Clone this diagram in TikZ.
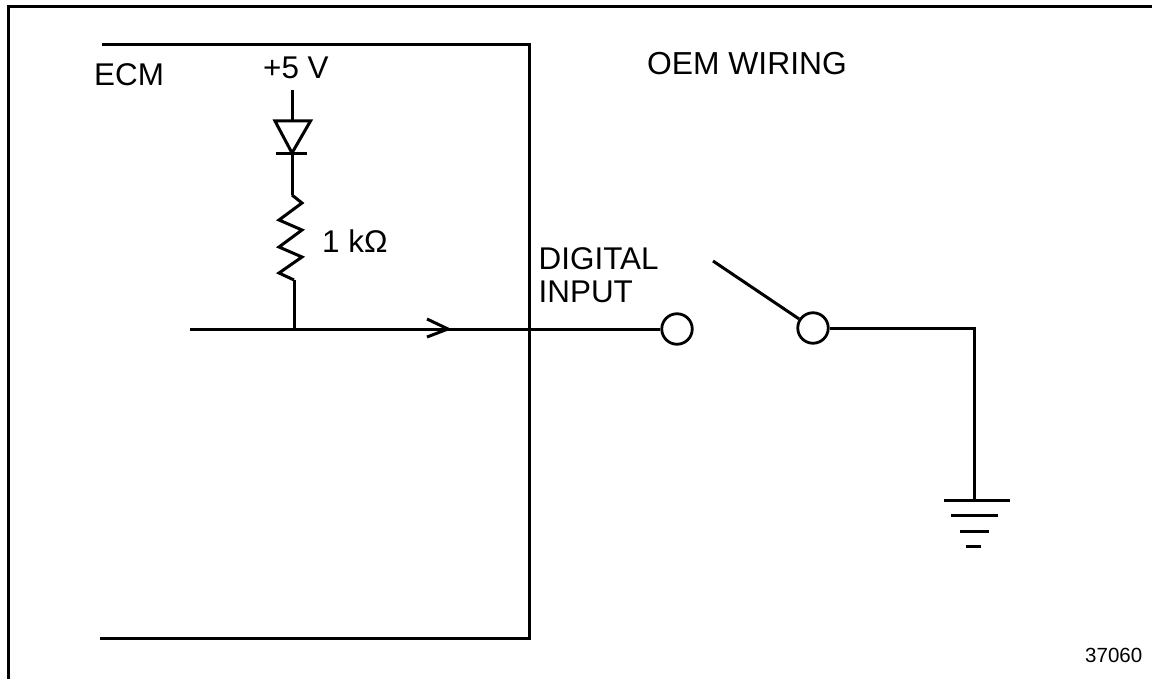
\documentclass[tikz,border=0pt]{standalone}
\usepackage{fontspec}
\setmainfont{Liberation Sans}
\usetikzlibrary{arrows.meta}
\tikzset{
  wire/.style={line width=3pt,black,line join=miter},
  term/.style={circle,draw=black,line width=2.8pt,fill=white,minimum size=30.5pt,inner sep=0pt},
  lab/.style={font=\fontsize{31.4}{32}\selectfont,inner sep=0pt,align=left,text=black},
  labwide/.style={font=\fontsize{31.8}{32}\selectfont,inner sep=0pt,align=left,text=black},
  small/.style={font=\fontsize{20.5}{22}\selectfont,inner sep=0pt,text=black}
}
\begin{document}
\begin{tikzpicture}[x=1pt,y=-1pt]
\useasboundingbox (0,0) rectangle (1152,679);
\draw[wire] (8,679) -- (8,6.5) -- (1152,6.5);
% ECM boundary
\coordinate (ecmTL) at (102,45);
\coordinate (ecmTR) at (529,45);
\coordinate (ecmBR) at (529,638);
\coordinate (ecmBL) at (100,638);
\draw[wire] (ecmTL) -- (ecmTR) -- (ecmBR) -- (ecmBL);
% labels
\node[lab,anchor=base west] (ecm) at (94,86) {ECM};
\node[lab,anchor=base west] (plus) at (263,79) {+5 V};
\node[labwide,anchor=base west] (oem) at (647,75) {OEM WIRING};
\node[lab,anchor=base west] (ohm) at (322,253) {1 kΩ};
\node[lab,anchor=base west] (di) at (538.5,270) {DIGITAL};
\node[lab,anchor=base west] (inp) at (538.5,302) {INPUT};
\node[small,anchor=base west] (num) at (1085,662) {37060};
% supply and diode
\coordinate (v) at (292,90);
\coordinate (dt) at (292,121);
\coordinate (da) at (292,154);
\coordinate (rt) at (292,195);
\coordinate (rb) at (294,280);
\coordinate (j) at (294,329);
\coordinate (start) at (190,329);
\draw[wire] (v) -- (dt);
\draw[wire,line join=miter] (275,121) -- (310.5,121) -- (292,153) -- cycle;
\draw[wire] (276,154) -- (307,154);
\draw[wire] (da) -- (rt);
\draw[wire] (rt) -- (302,203) -- (279,220) -- (302,230) -- (279,247) -- (302,257) -- (279,273) -- (rb);
\draw[wire] (rb) -- (j);
% terminals
\node[term] (t1) at (677,329) {};
\node[term] (t2) at (813,328) {};
\draw[wire] (start) -- (t1.west);
\draw[wire] (427,319) -- (448,329) -- (427,337);
\coordinate (blade) at (713,261);
\draw[wire] (blade) -- (t2.147);
\coordinate (corner) at (974,328);
\coordinate (gnd) at (974,500);
\draw[wire] (t2.east) -- (corner) -- (gnd);
\draw[wire] (944,500.5) -- (1010,500.5);
\draw[wire] (951,515.5) -- (998,515.5);
\draw[wire] (960,531.5) -- (989,531.5);
\draw[wire] (966,546) -- (981,546);
\end{tikzpicture}
\end{document}
